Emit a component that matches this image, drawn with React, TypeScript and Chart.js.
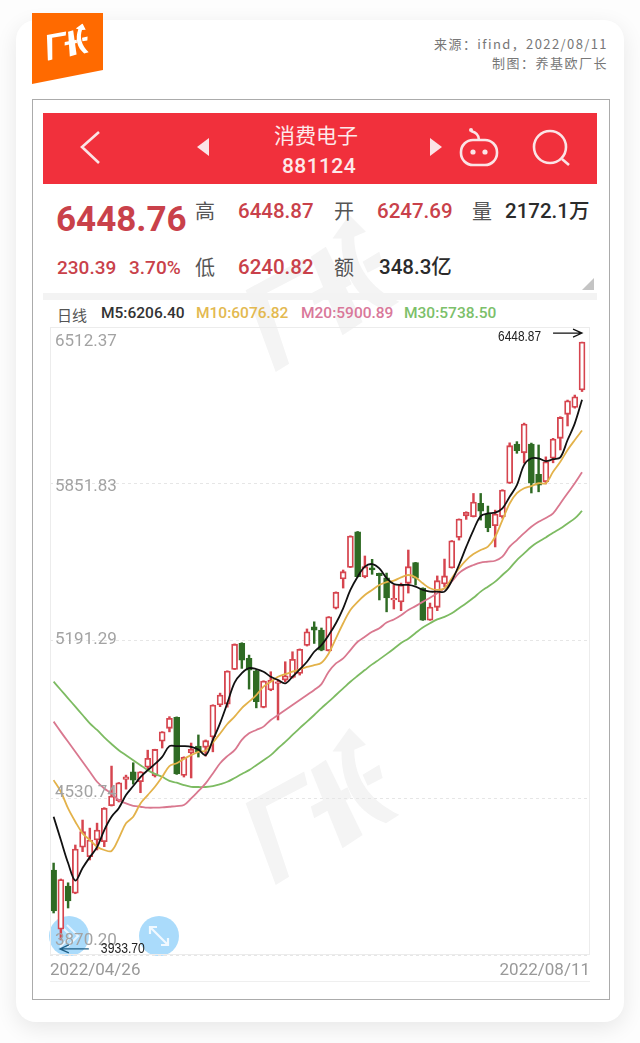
import React, { useEffect, useRef } from 'react';
import { Chart, registerables } from 'chart.js';

Chart.register(...registerables);

const tickDates = ['2022/04/26', '2022/08/11'];
const priceTicks = [3870.2, 4530.74, 5191.29, 5851.83, 6512.37];

const opens = [4228, 3979, 4160, 4130, 4324, 4284, 4354, 4347, 4498, 4519, 4609, 4641, 4599, 4660, 4624, 4770, 4824, 4870, 4626, 4721, 4749, 4744, 4788, 4922, 4926, 5072, 5181, 5118, 5066, 4912, 4985, 5013, 5027, 5038, 5055, 5173, 5251, 5237, 5150, 5329, 5452, 5501, 5651, 5462, 5499, 5476, 5457, 5364, 5356, 5434, 5521, 5414, 5279, 5333, 5431, 5499, 5627, 5718, 5714, 5770, 5725, 5676, 5714, 5855, 6020, 5983, 6020, 5892, 5861, 5960, 6044, 6145, 6174, 6247.69];
const highs = [4257, 4190, 4174, 4333, 4438, 4404, 4425, 4490, 4665, 4596, 4627, 4679, 4642, 4732, 4736, 4810, 4873, 4872, 4704, 4762, 4796, 4775, 4923, 4972, 5066, 5179, 5184, 5132, 5069, 5024, 5062, 5027, 5104, 5146, 5158, 5242, 5272, 5246, 5294, 5398, 5490, 5634, 5652, 5549, 5535, 5477, 5477, 5427, 5435, 5574, 5522, 5415, 5351, 5465, 5536, 5614, 5705, 5735, 5812, 5812, 5759, 5742, 5828, 6025, 6030, 6108, 6024, 6016, 5966, 6044, 6135, 6205, 6226, 6448.87];
const lows = [4047, 3933.7, 4068, 4128, 4305, 4270, 4312, 4326, 4497, 4514, 4568, 4589, 4553, 4648, 4619, 4741, 4809, 4630, 4619, 4615, 4703, 4707, 4725, 4915, 4913, 5071, 5076, 4989, 4910, 4910, 4982, 4859, 5020, 5035, 5048, 5170, 5181, 5150, 5149, 5326, 5414, 5500, 5461, 5457, 5472, 5364, 5314, 5326, 5319, 5393, 5427, 5278, 5278, 5319, 5420, 5498, 5616, 5703, 5713, 5700, 5651, 5587, 5708, 5854, 5981, 5940, 5814, 5819, 5852, 5941, 5995, 6096, 6171, 6240.82];
const closes = [4056, 4188, 4098, 4316, 4389, 4354, 4396, 4488, 4539, 4595, 4620, 4606, 4641, 4698, 4735, 4809, 4866, 4632, 4702, 4735, 4725, 4772, 4922, 4964, 5065, 5178, 5111, 5069, 4936, 5023, 5027, 5020, 5045, 5114, 5156, 5230, 5237, 5153, 5293, 5396, 5483, 5633, 5462, 5504, 5490, 5466, 5373, 5371, 5427, 5504, 5456, 5279, 5334, 5445, 5465, 5613, 5704, 5733, 5776, 5738, 5668, 5725, 5826, 6013, 5992, 6104, 5855, 5847, 5945, 6041, 6132, 6202, 6218.37, 6448.76];

const ma5 = [4452, 4354, 4257, 4183, 4236, 4282, 4324, 4396, 4452, 4488, 4543, 4581, 4619, 4648, 4674, 4704, 4749, 4749, 4749, 4746, 4735, 4711, 4775, 4846, 4930, 5016, 5056, 5077, 5073, 5062, 5041, 5027, 5013, 5041, 5072, 5104, 5146, 5174, 5216, 5266, 5329, 5406, 5462, 5504, 5515, 5497, 5456, 5431, 5427, 5427, 5420, 5406, 5399, 5399, 5399, 5444, 5511, 5587, 5658, 5717, 5728, 5731, 5749, 5798, 5847, 5932, 5960, 5960, 5948, 5956, 5964, 6037, 6107, 6206.4];
const ma10 = [4606, 4557, 4487, 4431, 4382, 4354, 4326, 4312, 4308, 4361, 4424, 4452, 4508, 4543, 4578, 4620, 4665, 4677, 4695, 4711, 4725, 4730, 4764, 4802, 4842, 4873, 4909, 4936, 4964, 4999, 5020, 5041, 5052, 5062, 5072, 5082, 5090, 5100, 5139, 5202, 5266, 5322, 5356, 5385, 5406, 5427, 5439, 5445, 5459, 5469, 5459, 5434, 5413, 5406, 5413, 5455, 5497, 5532, 5557, 5574, 5588, 5630, 5700, 5770, 5813, 5834, 5843, 5855, 5855, 5903, 5945, 5995, 6037, 6076.82];
const ma20 = [4852, 4809, 4767, 4725, 4683, 4641, 4599, 4571, 4550, 4522, 4508, 4498, 4494, 4490, 4490, 4491, 4494, 4497, 4501, 4529, 4560, 4592, 4634, 4677, 4707, 4732, 4775, 4803, 4817, 4831, 4859, 4880, 4901, 4922, 4943, 4964, 4985, 5010, 5062, 5097, 5118, 5153, 5188, 5209, 5230, 5245, 5269, 5282, 5300, 5322, 5338, 5356, 5373, 5392, 5413, 5441, 5477, 5498, 5511, 5521, 5525, 5529, 5546, 5588, 5616, 5645, 5672, 5693, 5709, 5728, 5770, 5813, 5855, 5900.89];
const ma30 = [5020, 4985, 4950, 4915, 4880, 4845, 4817, 4786, 4758, 4732, 4711, 4690, 4669, 4648, 4632, 4620, 4603, 4595, 4585, 4578, 4577, 4577, 4581, 4589, 4599, 4615, 4632, 4648, 4669, 4690, 4711, 4740, 4767, 4796, 4825, 4852, 4880, 4909, 4936, 4964, 4992, 5020, 5045, 5069, 5093, 5114, 5136, 5159, 5183, 5201, 5225, 5248, 5266, 5282, 5293, 5308, 5329, 5350, 5373, 5399, 5420, 5441, 5469, 5497, 5532, 5560, 5588, 5609, 5627, 5647, 5665, 5686, 5707, 5738.5];

const UP = '#d6454f';
const DOWN = '#2f6b24';
const GRAY = '#a3a3a3';
const SANS = "Roboto, 'Noto Sans CJK SC', sans-serif";
const CJK = "'Noto Sans CJK SC', Roboto, sans-serif";

const candleColor = closes.map((c, i) => (c >= opens[i] ? UP : DOWN));
const candleFill = closes.map((c, i) => (c >= opens[i] ? '#ffffff' : DOWN));

// tick labels and the high / low call-outs are not reachable with plain axis options
const overlayPlugin = {
  id: 'overlay',
  afterDatasetsDraw(chart: any) {
    const { ctx, chartArea, scales } = chart;
    const { x, y } = scales;
    ctx.save();

    ctx.strokeStyle = '#ececec';
    ctx.lineWidth = 1;
    ctx.strokeRect(chartArea.left + 0.5, chartArea.top + 0.5, chartArea.width - 1, chartArea.height - 1);

    // the app squeezes its labels slightly inside the grid lines
    const nudge = [-14, -5, -1, 3, 15];
    ctx.font = `17px ${SANS}`;
    ctx.fillStyle = GRAY;
    ctx.textAlign = 'left';
    ctx.textBaseline = 'middle';
    priceTicks.forEach((t, i) => {
      ctx.fillText(t.toFixed(2), chartArea.left + 5, y.getPixelForValue(t) + nudge[i]);
    });

    const callout = (idx: number, value: number, dy: number, color: string, dir: number) => {
      const px = x.getPixelForValue(idx);
      const py = y.getPixelForValue(value) + dy;
      const x0 = dir > 0 ? px - 29 : px - 1;
      const x1 = dir > 0 ? px : px + 28;
      const tip = dir > 0 ? x1 : x0;
      ctx.strokeStyle = color;
      ctx.lineWidth = 1.2;
      ctx.beginPath();
      ctx.moveTo(x0, py);
      ctx.lineTo(x1, py);
      ctx.moveTo(tip - dir * 9, py - 4);
      ctx.lineTo(tip, py);
      ctx.lineTo(tip - dir * 9, py + 4);
      ctx.stroke();
      ctx.fillStyle = '#222222';
      ctx.font = '15px "Liberation Sans", sans-serif';
      ctx.textBaseline = 'middle';
      const label = value.toFixed(2);
      if (dir > 0) ctx.fillText(label, px - 84, py + 4, 43);
      else ctx.fillText(label, px + 40, py, 44);
    };
    const hi = highs.indexOf(Math.max(...highs));
    const lo = lows.indexOf(Math.min(...lows));
    callout(hi, highs[hi], -9, '#111111', 1);
    callout(lo, lows[lo], 9, '#1f5f86', -1);

    ctx.restore();
  },
};

function Txt({ x, y, size, color, weight, font, ls, right, children }: any) {
  return (
    <span style={{
      position: 'absolute',
      top: y,
      left: right ? undefined : x,
      right: right ? 640 - x : undefined,
      transform: 'translateY(-50%)',
      fontSize: size,
      color,
      fontWeight: weight || 400,
      fontFamily: font || SANS,
      letterSpacing: ls || 0,
      lineHeight: 1,
      whiteSpace: 'nowrap',
    }}>{children}</span>
  );
}

// the arrow-and-characters mark, used for the logo and the watermarks
function Mark({ x, y, w, h, fill, rotate }: any) {
  return (
    <svg viewBox="145 85 460 470" style={{ position: 'absolute', left: x, top: y, width: w, height: h, transform: rotate ? `rotate(${rotate}deg)` : undefined }}>
      <g fill={fill}>
        <polygon points="145,310 320,215 330,255 205,320 275,530 235,555" />
        <polygon points="340,210 385,180 495,405 435,445" />
        <polygon points="340,320 450,262 462,292 350,355" />
        <path d="M405,155 L455,85 L505,135 L470,150 C470,230 510,300 605,345 L565,370 C480,340 430,260 432,155 Z" />
        <polygon points="495,225 545,195 555,235 510,258" />
      </g>
    </svg>
  );
}

export default function App() {
  const canvasRef = useRef<HTMLCanvasElement>(null);

  useEffect(() => {
    if (!canvasRef.current) return;
    const pts = (arr: number[]) => arr.map((v, i) => ({ x: i, y: v }));
    const line = (label: string, data: number[], color: string, width = 1.8) => ({
      type: 'line' as const,
      label,
      data: pts(data),
      borderColor: color,
      borderWidth: width,
      pointRadius: 0,
      tension: 0.35,
      order: 0,
    });
    const chart = new Chart(canvasRef.current, {
      type: 'bar',
      data: {
        datasets: [
          {
            label: 'wick',
            data: opens.map((_, i) => ({ x: i, y: [lows[i], highs[i]] })),
            backgroundColor: candleColor,
            barThickness: 1.8,
            grouped: false,
            order: 3,
          },
          {
            label: 'body',
            data: opens.map((o, i) => ({ x: i, y: [o, closes[i]] })),
            backgroundColor: candleFill,
            borderColor: candleColor,
            borderWidth: 1.8,
            borderSkipped: false,
            barThickness: 6,
            grouped: false,
            order: 2,
          },
          line('M5', ma5, '#111111'),
          line('M10', ma10, '#e3b24a'),
          line('M20', ma20, '#d9788f'),
          line('M30', ma30, '#7dbb62'),
        ],
      } as any,
      options: {
        responsive: false,
        animation: false,
        layout: { padding: { left: 6, right: 10, top: 7, bottom: 0 } },
        plugins: { legend: { display: false }, tooltip: { enabled: false } },
        scales: {
          x: {
            type: 'linear',
            offset: false,
            min: -0.5,
            max: 74.1,
            grid: { display: false, offset: false },
            border: { display: false },
            afterBuildTicks: (axis: any) => { axis.ticks = [{ value: axis.min }, { value: axis.max }]; },
            afterFit: (axis: any) => { axis.height = 25; },
            ticks: {
              autoSkip: false,
              maxRotation: 0,
              align: 'inner',
              padding: -2,
              color: '#999999',
              font: { size: 17, family: SANS },
              callback: (_v: any, i: number) => tickDates[i],
            },
          },
          y: {
            min: priceTicks[0],
            max: priceTicks[priceTicks.length - 1],
            afterBuildTicks: (axis: any) => { axis.ticks = priceTicks.map(value => ({ value })); },
            afterFit: (axis: any) => { axis.width = 0; },
            ticks: { display: false },
            border: { display: false, dash: [3, 3] },
            grid: { color: '#e6e6e6', drawTicks: false },
          },
        },
      } as any,
      plugins: [overlayPlugin],
    });
    return () => { chart.destroy(); };
  }, []);

  return (
    <div style={{ position: 'absolute', left: 0, top: 0, width: 640, height: 1043, background: '#fdfdfd', overflow: 'hidden' }}>
      <div style={{ position: 'absolute', left: 16, top: 20, width: 608, height: 1002, borderRadius: 20, background: '#fff', boxShadow: '0 6px 22px rgba(0,0,0,0.09)' }} />

      <svg style={{ position: 'absolute', left: 32, top: 13, width: 71, height: 72 }} viewBox="0 0 71 72">
        <polygon points="0,0 71,0 71,57 0,71" fill="#ff6a00" />
      </svg>
      <Mark x={37} y={20} w={62} h={46} fill="#ffffff" rotate={18} />

      <Txt x={608} y={43} size={13} color="#777" ls={1.4} right font={CJK}>{'来源\uFF1Aifind\uFF0C2022/08/11'}</Txt>
      <Txt x={608} y={62} size={13} color="#777" ls={1.5} right font={CJK}>{'制图\uFF1A养基欧厂长'}</Txt>

      <div style={{ position: 'absolute', left: 32, top: 99, width: 576, height: 899, border: '1px solid #ababab' }} />

      <Mark x={245} y={215} w={155} h={157} fill="#f4f4f4" />
      <Mark x={245} y={728} w={155} h={157} fill="#f4f4f4" />

      <div style={{ position: 'absolute', left: 43, top: 113, width: 554, height: 71, background: '#f1303c' }} />
      <Txt x={274} y={134} size={21} color="#fde9ea" font={CJK}>消费电子</Txt>
      <Txt x={282} y={166} size={21} weight={500} color="#fde9ea" ls={0.4}>881124</Txt>
      <svg style={{ position: 'absolute', left: 43, top: 113, width: 554, height: 71 }} viewBox="0 0 554 71" fill="none" stroke="#fbe4e6" strokeWidth={2.6}>
        <polyline points="56,19 39,34 56,50" />
        <polygon points="166,25 154,34 166,43" fill="#fbe4e6" stroke="none" />
        <polygon points="387,25 399,34 387,43" fill="#fbe4e6" stroke="none" />
        <rect x="418" y="27" width="36" height="25" rx="12" />
        <path d="M436,27 C436,21 432,19 428,18" />
        <circle cx="428" cy="17" r="2" fill="#fbe4e6" stroke="none" />
        <circle cx="430" cy="39" r="2.6" fill="#fbe4e6" stroke="none" />
        <circle cx="442" cy="39" r="2.6" fill="#fbe4e6" stroke="none" />
        <circle cx="507" cy="34" r="16" />
        <line x1="519" y1="46" x2="526" y2="52" />
      </svg>

      <Txt x={56} y={219} size={35} weight={700} color="#c9414a">6448.76</Txt>
      <Txt x={195} y={211} size={20} color="#555" font={CJK}>高</Txt>
      <Txt x={238} y={211} size={20.5} weight={500} color="#c9414a">6448.87</Txt>
      <Txt x={334} y={211} size={20} color="#555" font={CJK}>开</Txt>
      <Txt x={377} y={211} size={20.5} weight={500} color="#c9414a">6247.69</Txt>
      <Txt x={472} y={211} size={20} color="#555" font={CJK}>量</Txt>
      <Txt x={505} y={211} size={20.5} weight={500} color="#2b2b2b">2172.1万</Txt>

      <Txt x={57} y={267} size={19} weight={500} color="#c9414a">230.39</Txt>
      <Txt x={129} y={267} size={19} weight={500} color="#c9414a">3.70%</Txt>
      <Txt x={195} y={267} size={20} color="#555" font={CJK}>低</Txt>
      <Txt x={238} y={267} size={20.5} weight={500} color="#c9414a">6240.82</Txt>
      <Txt x={334} y={267} size={20} color="#555" font={CJK}>额</Txt>
      <Txt x={379} y={267} size={20.5} weight={500} color="#2b2b2b">348.3亿</Txt>
      <svg style={{ position: 'absolute', left: 582, top: 278, width: 12, height: 12 }} viewBox="0 0 12 12">
        <polygon points="12,0 12,12 0,12" fill="#c4c4c4" />
      </svg>
      <div style={{ position: 'absolute', left: 43, top: 293, width: 554, height: 7, background: '#f3f3f3' }} />

      <Txt x={57} y={314} size={15} color="#555" font={CJK}>日线</Txt>
      <Txt x={101} y={314} size={15.5} weight={500} color="#333">M5:6206.40</Txt>
      <Txt x={196} y={314} size={15.5} weight={500} color="#e3b950">M10:6076.82</Txt>
      <Txt x={301} y={314} size={15.5} weight={500} color="#d9789a">M20:5900.89</Txt>
      <Txt x={404} y={314} size={15.5} weight={500} color="#7cc06a">M30:5738.50</Txt>

      <svg style={{ position: 'absolute', left: 49, top: 916, width: 40, height: 40 }} viewBox="0 0 40 40">
        <circle cx="20" cy="20" r="20" fill="#aadbfb" />
        <polyline points="11,9 22,20 11,31" fill="none" stroke="#e8f5ff" strokeWidth={2} />
        <polyline points="18,9 29,20 18,31" fill="none" stroke="#e8f5ff" strokeWidth={2} />
      </svg>
      <svg style={{ position: 'absolute', left: 139, top: 916, width: 40, height: 40 }} viewBox="0 0 40 40">
        <circle cx="20" cy="20" r="20" fill="#aadbfb" />
        <path d="M11,11 L29,29 M11,18 L11,11 L18,11 M29,22 L29,29 L22,29" fill="none" stroke="#f1f9ff" strokeWidth={2.2} />
      </svg>

      <canvas ref={canvasRef} width={556} height={660} style={{ position: 'absolute', left: 44, top: 320, width: 556, height: 660 }} />
      <div style={{ position: 'absolute', left: 50, top: 981, width: 540, height: 1, background: '#efefef' }} />
    </div>
  );
}
